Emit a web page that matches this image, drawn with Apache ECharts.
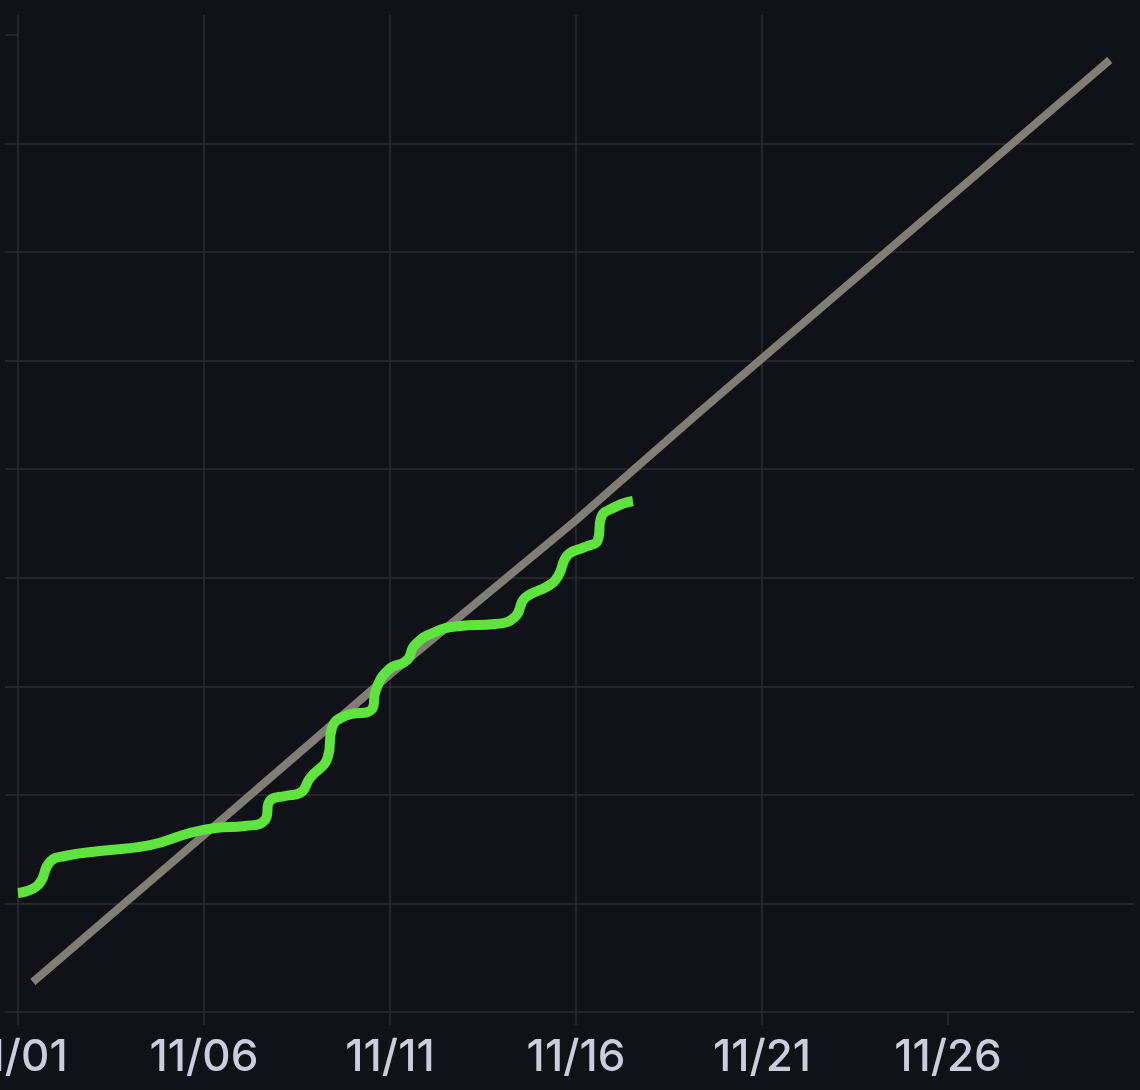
<!DOCTYPE html>
<html>
<head>
<meta charset="utf-8">
<script src="https://cdn.jsdelivr.net/npm/echarts@6/dist/echarts.min.js"></script>
<style>
  html, body { margin: 0; padding: 0; background: #111217; }
  #chart { width: 1140px; height: 1090px; }
</style>
</head>
<body>
<div id="chart"></div>
<script>
// Days elapsed since 11/01 00:00 (x) and values (y)
const actualDays = [0, 0.54, 0.86, 1.26, 2.20, 3.55, 4.62, 5.30, 6.10, 6.64, 6.77, 7.18, 7.58, 7.85, 8.33, 8.44, 8.79, 9.52, 9.62, 9.95, 10.46, 10.67, 11.21, 11.88, 12.82, 13.36, 13.63, 14.25, 14.52, 14.78, 15.24, 15.59, 15.67, 16.05, 16.53];
const actualValues = [10.96, 11.70, 13.82, 14.37, 14.83, 15.38, 16.49, 16.95, 17.13, 17.69, 19.44, 19.90, 20.17, 21.56, 23.49, 26.16, 27.27, 27.91, 29.66, 31.50, 32.42, 33.81, 35.00, 35.56, 35.74, 36.39, 38.14, 39.24, 40.16, 42.10, 42.83, 43.48, 45.50, 46.52, 47.07];
const targetDays = [0.40, 5.0, 10.0, 15.0, 18.33, 29.35];
const targetValues = [2.76, 16.3, 31.1, 45.3, 55.3, 87.7];
const xTickValues = [0, 5, 10, 15, 20, 25];
const xTickLabels = ['11/01', '11/06', '11/11', '11/16', '11/21', '11/26'];
const yTickValues = [0, 10, 20, 30, 40, 50, 60, 70, 80, 90];

const pair = (xs, ys) => xs.map((x, i) => [x, ys[i]]);
const gridColor = '#2c2d32';

const chart = echarts.init(document.getElementById('chart'), null, { renderer: 'canvas' });
chart.setOption({
  backgroundColor: '#111217',
  animation: false,
  grid: { left: 18, right: 6, top: 15, bottom: 78, containLabel: false, outerBoundsMode: 'none' },
  xAxis: {
    type: 'value', min: 0, max: 30, interval: 5,
    axisLine: { show: false },
    axisTick: { show: true, length: 13, lineStyle: { color: gridColor, width: 1.5 }, customValues: xTickValues },
    axisLabel: {
      customValues: xTickValues,
      hideOverlap: false,
      color: '#ccccdc', fontFamily: 'Inter', fontWeight: 500, fontSize: 44, margin: 24,
      formatter: v => xTickLabels[xTickValues.indexOf(v)] || ''
    },
    splitLine: { show: true, showMaxLine: false, lineStyle: { color: gridColor, width: 1.5 } }
  },
  yAxis: {
    type: 'value', min: 0, max: 91.84, interval: 10,
    axisLine: { show: false },
    axisTick: { show: true, length: 13, lineStyle: { color: gridColor, width: 1.5 }, customValues: yTickValues },
    axisLabel: { show: false },
    splitLine: { show: true, showMaxLine: false, lineStyle: { color: gridColor, width: 1.5 } }
  },
  series: [
    {
      type: 'line', data: pair(targetDays, targetValues), showSymbol: false,
      lineStyle: { color: '#807e75', width: 8 }, z: 2
    },
    {
      type: 'line', data: pair(actualDays, actualValues), showSymbol: false,
      smooth: 0.5,
      lineStyle: { color: '#5fe33f', width: 10, cap: 'butt', join: 'round' }, z: 3
    }
  ]
});
</script>
</body>
</html>
